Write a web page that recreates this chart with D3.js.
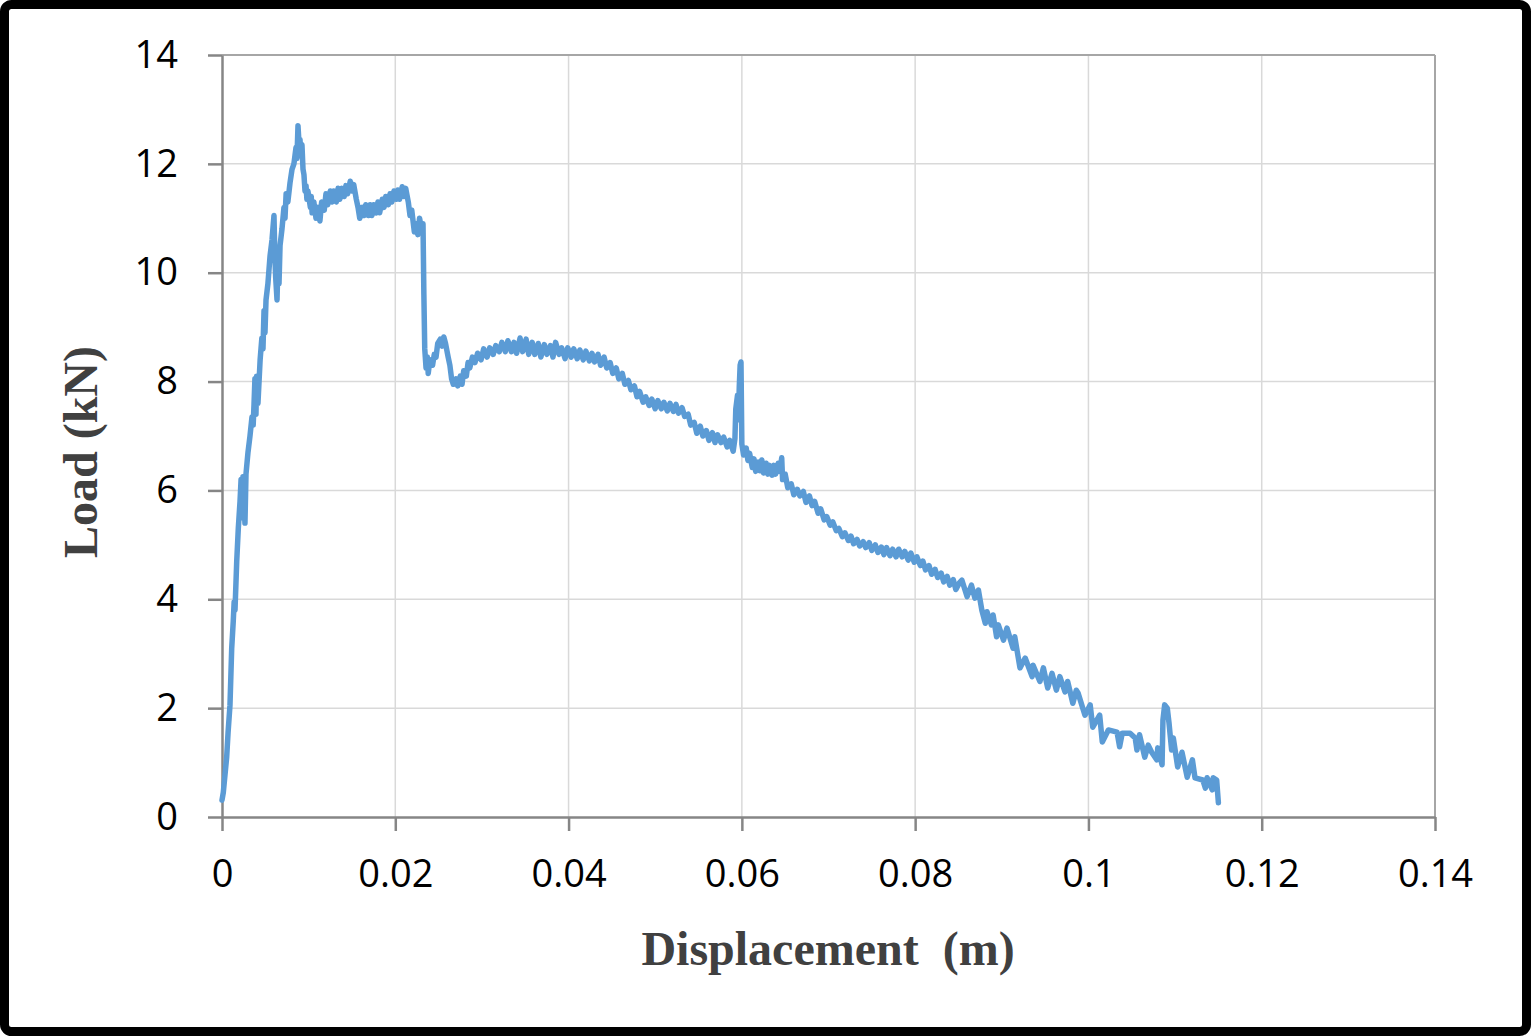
<!DOCTYPE html>
<html>
<head>
<meta charset="utf-8">
<script src="https://cdn.jsdelivr.net/npm/d3@7"></script>
<style>
  html, body { margin: 0; padding: 0; background: #fff; }
  svg { display: block; }
</style>
</head>
<body>
<svg id="chart" width="1531" height="1036"></svg>
<script>
// Displacement in mm (converted to m for plotting), load in kN
const displacementMM = [
  0, 0.15, 0.54, 0.7, 0.92, 1.12, 1.3, 1.4, 1.5, 1.7, 1.88, 2.08, 2.2, 2.3, 2.42, 2.5, 2.65, 2.77, 3.0, 3.23,
  3.46, 3.6, 3.7, 3.8, 3.92, 4.0, 4.15, 4.4, 4.6, 4.73, 4.85, 4.96, 5.08, 5.3, 5.54, 5.77, 6.0, 6.1, 6.2, 6.35,
  6.46, 6.58, 6.7, 6.92, 7.15, 7.27, 7.4, 7.6, 7.85, 8.08, 8.3, 8.54, 8.65, 8.77, 8.9, 9.0, 9.1, 9.23, 9.35, 9.46,
  9.58, 9.7, 9.8, 9.92, 10.2, 10.3, 10.4, 10.6, 10.85, 11.1, 11.3, 11.5, 11.8, 12.0, 12.2, 12.5, 12.7, 12.9, 13.2, 13.4,
  13.6, 13.85, 14.1, 14.3, 14.5, 14.8, 15.0, 15.2, 15.5, 15.7, 15.9, 16.2, 16.4, 16.6, 16.9, 17.1, 17.3, 17.5, 17.8, 18.0,
  18.2, 18.5, 18.7, 18.9, 19.2, 19.4, 19.6, 19.85, 20.1, 20.3, 20.5, 20.8, 21.0, 21.2, 21.5, 21.7, 21.9, 22.2, 22.4, 22.6,
  22.8, 23.1, 23.2, 23.3, 23.4, 23.55, 23.7, 23.8, 24.0, 24.3, 24.5, 24.7, 24.9, 25.2, 25.4, 25.6, 25.8, 26.1, 26.3, 26.5,
  26.7, 27.0, 27.2, 27.5, 27.7, 27.9, 28.2, 28.4, 28.6, 28.9, 29.2, 29.5, 29.9, 30.2, 30.6, 30.9, 31.3, 31.6, 32.0, 32.3,
  32.7, 33.0, 33.4, 33.7, 34.0, 34.4, 34.7, 35.1, 35.4, 35.8, 36.1, 36.5, 36.8, 37.2, 37.5, 37.9, 38.2, 38.5, 38.9, 39.2,
  39.6, 39.9, 40.3, 40.6, 41.0, 41.3, 41.7, 42.0, 42.4, 42.7, 43.0, 43.4, 43.7, 44.1, 44.4, 44.8, 45.1, 45.5, 45.8, 46.2,
  46.5, 46.9, 47.2, 47.6, 47.9, 48.2, 48.6, 48.9, 49.3, 49.6, 50.0, 50.3, 50.7, 51.0, 51.4, 51.7, 52.1, 52.4, 52.7, 53.1,
  53.4, 53.8, 54.1, 54.5, 54.8, 55.2, 55.5, 55.9, 56.2, 56.6, 56.9, 57.2, 57.6, 57.9, 58.3, 58.6, 59.0, 59.2, 59.3, 59.5,
  59.6, 59.7, 59.8, 59.9, 60.0, 60.2, 60.5, 60.7, 60.9, 61.2, 61.4, 61.6, 61.9, 62.1, 62.3, 62.5, 62.8, 63.0, 63.2, 63.5,
  63.7, 63.9, 64.2, 64.4, 64.6, 64.7, 65.0, 65.3, 65.7, 66.0, 66.4, 66.7, 67.1, 67.4, 67.8, 68.1, 68.4, 68.8, 69.1, 69.5,
  69.8, 70.2, 70.5, 70.9, 71.2, 71.6, 71.9, 72.3, 72.6, 72.9, 73.3, 73.6, 74.0, 74.3, 74.7, 75.0, 75.4, 75.7, 76.1, 76.4,
  76.7, 77.1, 77.4, 77.8, 78.1, 78.5, 78.8, 79.2, 79.5, 79.9, 80.2, 80.6, 80.9, 81.2, 81.6, 81.9, 82.3, 82.6, 83.0, 83.3,
  83.7, 84.0, 84.4, 84.7, 85.1, 85.4, 86.0, 86.5, 86.9, 87.3, 87.7, 88.1, 88.3, 88.8, 89.0, 89.4, 89.6, 90.2, 90.6, 91.3,
  91.5, 92.1, 92.7, 93.5, 93.6, 94.4, 94.8, 95.3, 95.8, 96.3, 96.7, 97.3, 97.6, 98.2, 98.6, 98.8, 99.6, 100.2, 100.5, 101.3,
  101.6, 102.3, 103.3, 103.6, 103.9, 104.8, 105.4, 105.6, 105.9, 106.5, 106.9, 107.3, 107.9, 108.0, 108.5, 108.6, 108.8, 109.1, 109.3, 109.6,
  109.8, 110.3, 110.8, 111.4, 112.0, 112.3, 113.2, 113.5, 113.7, 114.3, 114.4, 114.8, 115.0
];
const loadKN = [
  0.31, 0.45, 1.1, 1.55, 2.05, 3.1, 3.6, 3.95, 3.8, 4.7, 5.3, 5.8, 6.2, 5.5, 6.25, 6.05, 5.4, 6.3, 6.7, 7.0,
  7.35, 7.2, 7.6, 8.05, 7.4, 8.1, 7.6, 8.4, 8.8, 8.6, 9.3, 8.9, 9.5, 9.8, 10.3, 10.6, 11.05, 10.3, 9.9, 9.5,
  10.2, 9.8, 10.5, 10.8, 11.2, 11.0, 11.45, 11.3, 11.65, 11.9, 12.0, 12.3, 12.1, 12.7, 12.35, 12.45, 12.2, 12.35, 11.9, 11.8,
  11.5, 11.6, 11.35, 11.5, 11.2, 11.4, 11.1, 11.3, 11.0, 11.2, 10.95, 11.3, 11.15, 11.45, 11.25, 11.5, 11.3, 11.5, 11.3, 11.55,
  11.35, 11.55, 11.4, 11.6, 11.45, 11.68, 11.5, 11.62, 11.35, 11.2, 11.0, 11.2, 11.05, 11.25, 11.05, 11.25, 11.05, 11.25, 11.1, 11.3,
  11.1, 11.35, 11.2, 11.4, 11.25, 11.45, 11.3, 11.5, 11.35, 11.52, 11.35, 11.58, 11.4, 11.55, 11.3, 11.05, 11.15, 10.75, 10.9, 10.7,
  11.0, 10.75, 10.9, 9.6, 8.6, 8.25, 8.45, 8.15, 8.4, 8.3, 8.5, 8.45, 8.7, 8.78, 8.65, 8.82, 8.7, 8.45, 8.3, 8.05,
  7.95, 8.05, 7.92, 8.1, 7.95, 8.2, 8.1, 8.35, 8.25, 8.45, 8.35, 8.52, 8.4, 8.6, 8.45, 8.62, 8.5, 8.66, 8.55, 8.72,
  8.55, 8.75, 8.55, 8.72, 8.52, 8.8, 8.55, 8.78, 8.5, 8.72, 8.5, 8.7, 8.45, 8.68, 8.5, 8.66, 8.45, 8.72, 8.5, 8.62,
  8.42, 8.62, 8.45, 8.6, 8.42, 8.58, 8.4, 8.56, 8.38, 8.52, 8.36, 8.5, 8.3, 8.45, 8.25, 8.35, 8.15, 8.25, 8.05, 8.15,
  7.95, 8.02, 7.85, 7.92, 7.72, 7.82, 7.62, 7.72, 7.56, 7.68, 7.5, 7.65, 7.5, 7.62, 7.46, 7.6, 7.45, 7.58, 7.42, 7.52,
  7.36, 7.4, 7.2, 7.25, 7.05, 7.18, 7.0, 7.1, 6.92, 7.06, 6.88, 7.02, 6.88, 6.98, 6.8, 6.92, 6.72, 6.95, 7.5, 7.75,
  7.3, 7.9, 8.3, 8.36, 6.85, 6.65, 6.78, 6.55, 6.68, 6.42, 6.58, 6.35, 6.52, 6.36, 6.56, 6.32, 6.5, 6.3, 6.46, 6.28,
  6.46, 6.3, 6.5, 6.35, 6.6, 6.2, 6.3, 6.05, 6.12, 5.92, 6.02, 5.9, 5.98, 5.78, 5.9, 5.72, 5.8, 5.58, 5.66, 5.46,
  5.52, 5.36, 5.42, 5.26, 5.3, 5.15, 5.22, 5.08, 5.16, 5.02, 5.1, 4.98, 5.06, 4.95, 5.04, 4.9, 5.0, 4.86, 4.96, 4.82,
  4.95, 4.8, 4.92, 4.78, 4.92, 4.78, 4.88, 4.72, 4.85, 4.68, 4.78, 4.62, 4.7, 4.54, 4.62, 4.46, 4.55, 4.4, 4.48, 4.32,
  4.42, 4.26, 4.36, 4.18, 4.3, 4.35, 4.05, 4.26, 4.02, 4.17, 3.8, 3.56, 3.77, 3.53, 3.71, 3.31, 3.53, 3.25, 3.47, 3.1,
  3.31, 2.74, 2.92, 2.58, 2.79, 2.49, 2.74, 2.37, 2.64, 2.33, 2.58, 2.3, 2.49, 2.09, 2.33, 2.28, 1.87, 2.06, 1.65, 1.87,
  1.38, 1.6, 1.56, 1.29, 1.54, 1.54, 1.45, 1.23, 1.51, 1.1, 1.32, 1.19, 1.05, 1.27, 0.96, 1.78, 2.06, 2.0, 1.73, 1.23,
  1.45, 0.92, 1.19, 0.73, 1.05, 0.72, 0.68, 0.53, 0.72, 0.5, 0.72, 0.68, 0.26
];
const xTicks = [0, 0.02, 0.04, 0.06, 0.08, 0.1, 0.12, 0.14];
const xTickLabels = ["0", "0.02", "0.04", "0.06", "0.08", "0.1", "0.12", "0.14"];
const yTicks = [0, 2, 4, 6, 8, 10, 12, 14];
const xTitle = "Displacement\u00a0 (m)";
const yTitle = "Load (kN)";

const svg = d3.select("#chart");
const W = 1531, H = 1036;
const m = { left: 222, right: 1435, top: 55, bottom: 817 };

// outer frame
svg.append("rect").attr("x", 4.5).attr("y", 4.5).attr("width", W - 9).attr("height", H - 9)
  .attr("rx", 7).attr("fill", "#fff").attr("stroke", "#000").attr("stroke-width", 9);

const x = d3.scaleLinear().domain([0, 0.14]).range([m.left, m.right]);
const y = d3.scaleLinear().domain([0, 14]).range([m.bottom, m.top]);

// gridlines
const grid = svg.append("g");
grid.selectAll("line.v").data(xTicks.slice(1)).join("line")
  .attr("x1", d => x(d)).attr("x2", d => x(d)).attr("y1", m.top).attr("y2", m.bottom)
  .attr("stroke", "#d9d9d9").attr("stroke-width", 1.5);
grid.selectAll("line.h").data(yTicks.slice(1)).join("line")
  .attr("x1", m.left).attr("x2", m.right).attr("y1", d => y(d)).attr("y2", d => y(d))
  .attr("stroke", "#d9d9d9").attr("stroke-width", 1.5);

// plot border (top / right)
svg.append("line").attr("x1", m.left).attr("x2", m.right).attr("y1", m.top).attr("y2", m.top)
  .attr("stroke", "#a6a6a6").attr("stroke-width", 2);
svg.append("line").attr("x1", m.right).attr("x2", m.right).attr("y1", m.top).attr("y2", m.bottom)
  .attr("stroke", "#a6a6a6").attr("stroke-width", 2);

// axes
const fontTick = "'Open Sans', 'Liberation Sans', sans-serif";
const xAxis = d3.axisBottom(x).tickValues(xTicks).tickFormat((d, i) => xTickLabels[i])
  .tickSizeInner(14).tickSizeOuter(0).tickPadding(20);
const gx = svg.append("g").attr("transform", `translate(0,${m.bottom})`).call(xAxis);
gx.select(".domain").attr("stroke", "#868686").attr("stroke-width", 2.5);
gx.selectAll(".tick line").attr("stroke", "#868686").attr("stroke-width", 2.5);
gx.selectAll(".tick text").attr("font-family", fontTick).attr("font-size", 38).attr("fill", "#000")
  .attr("dy", "0.95em");

const yAxis = d3.axisLeft(y).tickValues(yTicks).tickFormat(d3.format("d"))
  .tickSizeInner(14).tickSizeOuter(0).tickPadding(30);
const gy = svg.append("g").attr("transform", `translate(${m.left},0)`).call(yAxis);
gy.select(".domain").attr("stroke", "#868686").attr("stroke-width", 2.5);
gy.selectAll(".tick line").attr("stroke", "#868686").attr("stroke-width", 2.5);
gy.selectAll(".tick text").attr("font-family", fontTick).attr("font-size", 38).attr("fill", "#000");

// data line
const pts = displacementMM.map((d, i) => [d / 1000, loadKN[i]]);
const line = d3.line().x(d => x(d[0])).y(d => y(d[1]));
svg.append("path").datum(pts).attr("d", line)
  .attr("fill", "none").attr("stroke", "#5b9bd5").attr("stroke-width", 5.5)
  .attr("stroke-linejoin", "round").attr("stroke-linecap", "round");

// titles
const fontTitle = "'Liberation Serif', 'Times New Roman', serif";
svg.append("text").attr("x", 828).attr("y", 965).attr("text-anchor", "middle")
  .attr("font-family", fontTitle).attr("font-weight", "bold").attr("font-size", 48)
  .attr("fill", "#404040").text(xTitle);
svg.append("text").attr("transform", "translate(97,452) rotate(-90)").attr("text-anchor", "middle")
  .attr("font-family", fontTitle).attr("font-weight", "bold").attr("font-size", 48)
  .attr("fill", "#404040").text(yTitle);
</script>
</body>
</html>
